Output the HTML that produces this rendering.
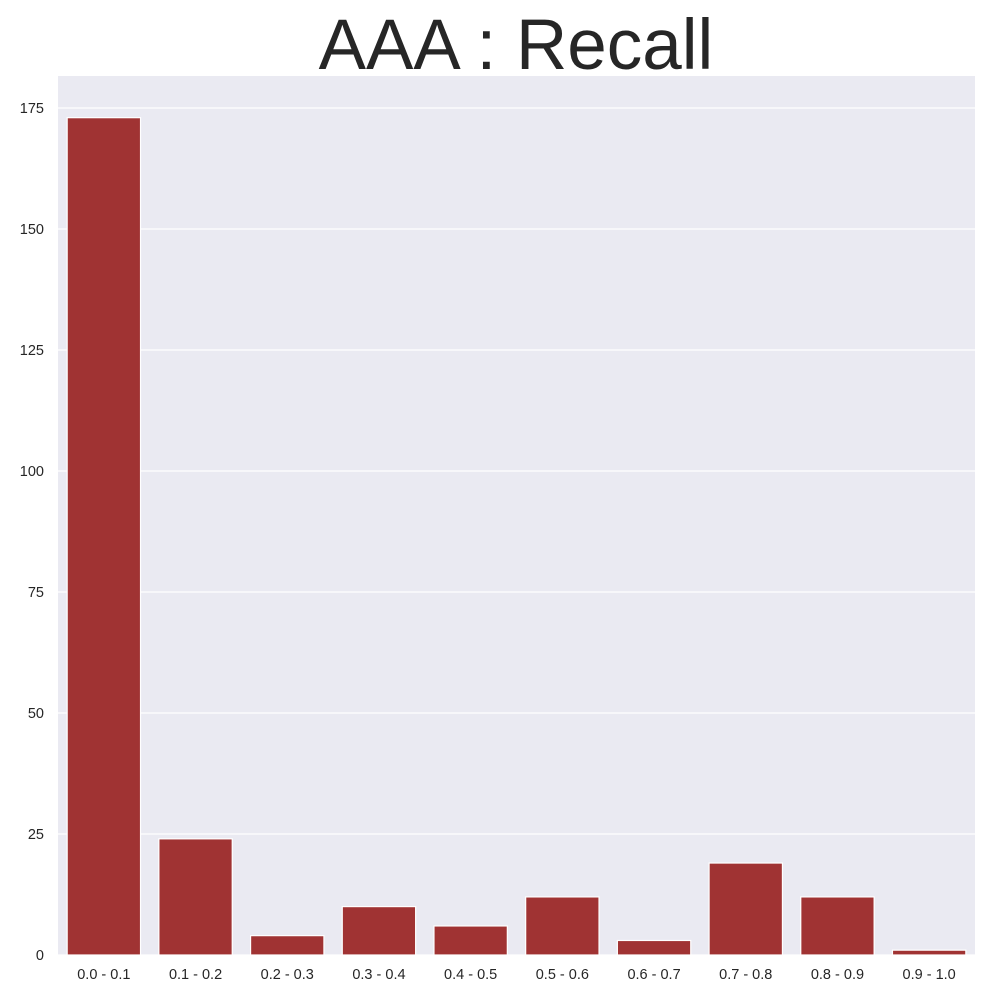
<!DOCTYPE html>
<html><head><meta charset="utf-8"><style>
body{margin:0;background:#fff;font-family:"Liberation Sans",Arial,sans-serif}
</style></head><body>
<svg width="1000" height="1000" viewBox="0 0 1000 1000">
<rect width="1000" height="1000" fill="#fff"/>
<text x="516" y="69" font-size="71" text-anchor="middle" fill="#262626" font-family="Liberation Sans, Arial, sans-serif">AAA : Recall</text>
<rect x="58" y="76" width="917" height="879" fill="#eaeaf2"/>
<g id="grid"></g><g id="bars"></g><g id="yt"></g><g id="xt"></g>
</svg>
<script>
const categories=["0.0 - 0.1","0.1 - 0.2","0.2 - 0.3","0.3 - 0.4","0.4 - 0.5","0.5 - 0.6","0.6 - 0.7","0.7 - 0.8","0.8 - 0.9","0.9 - 1.0"];
const counts=[173,24,4,10,6,12,3,19,12,1];
const yTicks=[0,25,50,75,100,125,150,175];
const NS="http://www.w3.org/2000/svg";
const x0=58,x1=975,yBase=955,yTop=108,yMaxVal=175;
const y=v=>yBase-(v/yMaxVal)*(yBase-yTop);
const slot=(x1-x0)/categories.length;
const bw=slot*0.8;
const mk=(t,a,p)=>{const e=document.createElementNS(NS,t);for(const k in a)e.setAttribute(k,a[k]);p.appendChild(e);return e;};
const g=document.getElementById('grid'),b=document.getElementById('bars'),yt=document.getElementById('yt'),xt=document.getElementById('xt');
yTicks.forEach(v=>{
 const l=mk('line',{x1:x0,x2:x1,y1:y(v),y2:y(v),stroke:'#fff','stroke-width':1.2},g);
 
 
 const t=mk('text',{x:44,y:y(v)+5,'font-size':14.5,'text-anchor':'end',fill:'#262626'},yt);
 t.textContent=v;
 
 
});
categories.forEach((c,i)=>{
 const cx=x0+slot*(i+0.5);
 const r=mk('rect',{x:cx-bw/2,y:y(counts[i]),width:bw,height:yBase-y(counts[i]),fill:'#a03333',stroke:'#fff','stroke-width':1.2},b);
 
 
 const t=mk('text',{x:cx,y:979,'font-size':14.5,'text-anchor':'middle',fill:'#262626'},xt);
 t.textContent=c;
 
 
});
</script>
</body></html>
